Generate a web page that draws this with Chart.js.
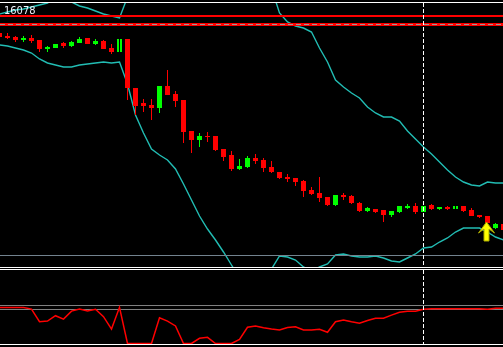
<!DOCTYPE html>
<html>
<head>
<meta charset="utf-8">
<script src="https://cdn.jsdelivr.net/npm/chart.js@4.4.0/dist/chart.umd.min.js"></script>
<style>
html, body { margin: 0; padding: 0; background: #000; }
#wrap { position: relative; width: 503px; height: 347px; background: #000; overflow: hidden; }
#mainChart { position: absolute; left: 0; top: 0; }
#subChart { position: absolute; left: 0; top: 268px; }
</style>
</head>
<body>
<div id="wrap">
  <canvas id="mainChart" width="503" height="268"></canvas>
  <canvas id="subChart" width="503" height="79"></canvas>
</div>
<script>
// price data, one entry per bar (bar -1 is the partly hidden one at the left edge)
var opens = [
  16061, 16058, 16057, 16054, 16056, 16054, 16045, 16046,
  16051, 16048, 16051, 16056, 16050, 16053, 16046, 16042,
  16055, 16006, 15991, 15989, 15986, 16008, 16000, 15994,
  15963, 15954, 15958, 15958, 15945, 15939, 15925, 15927,
  15936, 15934, 15927, 15922, 15917, 15916, 15913, 15904,
  15901, 15897, 15889, 15899, 15898, 15891, 15883, 15885,
  15884, 15879, 15882, 15886, 15888, 15882, 15889, 15885,
  15887, 15885, 15888, 15884, 15879, 15878, 15866, 15870
];
var closes = [
  16057, 16056, 16054, 16056, 16053, 16045, 16047, 16050,
  16048, 16052, 16055, 16050, 16053, 16045, 16042, 16055,
  16006, 15988, 15988, 15986, 16008, 15999, 15993, 15962,
  15954, 15958, 15957, 15944, 15937, 15925, 15928, 15936,
  15933, 15926, 15922, 15916, 15915, 15912, 15903, 15900,
  15896, 15889, 15899, 15897, 15891, 15883, 15886, 15882,
  15879, 15883, 15888, 15888, 15882, 15888, 15885, 15887,
  15885, 15888, 15883, 15878, 15877, 15871, 15870, 15864
];
var highs = [
  16062, 16061, 16058, 16058, 16059, 16054, 16048, 16050,
  16052, 16053, 16057, 16056, 16055, 16054, 16050, 16055,
  16055, 16006, 15995, 15995, 16008, 16024, 16003, 15994,
  15963, 15961, 15962, 15958, 15945, 15943, 15935, 15938,
  15940, 15936, 15933, 15922, 15920, 15916, 15914, 15907,
  15917, 15897, 15899, 15901, 15899, 15892, 15887, 15885,
  15884, 15883, 15888, 15890, 15891, 15888, 15890, 15887,
  15888, 15888, 15888, 15886, 15879, 15878, 15871, 15871
];
var lows = [
  16056, 16055, 16052, 16052, 16051, 16042, 16042, 16046,
  16046, 16047, 16051, 16050, 16049, 16045, 16040, 16042,
  15994, 15979, 15982, 15974, 15981, 15999, 15987, 15951,
  15941, 15947, 15952, 15943, 15933, 15923, 15924, 15926,
  15930, 15922, 15921, 15915, 15912, 15908, 15897, 15899,
  15892, 15888, 15888, 15894, 15890, 15882, 15882, 15881,
  15872, 15877, 15881, 15885, 15880, 15882, 15884, 15884,
  15884, 15885, 15882, 15878, 15876, 15870, 15865, 15862
];
var upperBand = [
  16080, 16082, 16084, 16085, 16087, 16089, 16091, 16096,
  16096, 16092, 16088, 16086, 16083, 16080, 16078, 16076,
  16097, 16119, 16139, 16154, 16164, 16172, 16179, 16182,
  16184, 16184, 16182, 16178, 16172, 16164, 16154, 16142,
  16129, 16119, 16106, 16081, 16072, 16068, 16066, 16062,
  16046, 16032, 16014, 16007, 16001, 15996, 15987, 15981,
  15977, 15977, 15973, 15963, 15955, 15947, 15940, 15932,
  15924, 15917, 15912, 15909, 15908, 15912, 15911, 15911
];
var lowerBand = [
  16049, 16048, 16046, 16044, 16041, 16035, 16031, 16029,
  16027, 16027, 16029, 16030, 16031, 16032, 16031, 16032,
  16010, 15979, 15961, 15945, 15939, 15934, 15925, 15910,
  15894, 15878, 15865, 15854, 15842, 15829, 15816, 15809,
  15809, 15816, 15825, 15838, 15837, 15834, 15827, 15823,
  15827, 15830, 15839, 15840, 15838, 15837, 15837, 15838,
  15836, 15833, 15832, 15836, 15840, 15846, 15847, 15852,
  15856, 15862, 15866, 15866, 15866, 15862, 15857, 15854
];
var oscillator = [
  95, 95, 95, 95, 91, 59.5, 61, 74.5,
  66, 86, 91, 86, 90.5, 72, 41, 95.5,
  5, 5, 5, 5, 69.5, 61, 49, 5,
  5, 18, 20.5, 5, 5, 5, 15.5, 45.5,
  49, 44.5, 41.5, 39, 45, 47, 39, 39,
  40.5, 33, 59.5, 64, 59.5, 55.5, 62.5, 68,
  68, 76, 83, 85.5, 85.5, 90.5, 92, 92,
  92, 92, 92, 92, 92, 90.5, 93, 93
];
var oscLevels = [100, 90];
var priceLabel = '16078';
var redLevel = 16078;
var redDashLevel = 16069.5;
var greyLevel = 15838.5;
var markerBar = 52;     // vertical dashed line
var arrowBar = 60;
var arrowPrice = 15872;
var hollowBars = [14, 56];

var firstBar = -1;
var xMin = -0.9375, xMax = 61.9375;
var upColor = '#00ff00', downColor = '#ff0000', bandColor = '#22bdb4';

var bodyData = [], wickData = [], bodyColors = [], wickColors = [];
var upperData = [], lowerData = [], oscData = [];
for (var i = 0; i < opens.length; i++) {
    var bar = firstBar + i;
    var col = closes[i] >= opens[i] ? upColor : downColor;
    bodyData.push({x: bar, y: [opens[i], closes[i]]});
    wickData.push({x: bar, y: [lows[i], highs[i]]});
    bodyColors.push(col);
    wickColors.push(hollowBars.indexOf(bar) >= 0 ? '#000000' : col);
    upperData.push({x: bar, y: upperBand[i]});
    lowerData.push({x: bar, y: lowerBand[i]});
    oscData.push({x: bar, y: oscillator[i]});
}

function hline(ctx, y, x0, x1, color, width, dash) {
    ctx.beginPath();
    ctx.setLineDash(dash || []);
    ctx.strokeStyle = color;
    ctx.lineWidth = width;
    ctx.moveTo(x0, y);
    ctx.lineTo(x1, y);
    ctx.stroke();
}

function vline(ctx, x, y0, y1) {
    ctx.beginPath();
    ctx.setLineDash([4, 2]);
    ctx.strokeStyle = '#ffffff';
    ctx.lineWidth = 1;
    ctx.moveTo(x, y0);
    ctx.lineTo(x, y1);
    ctx.stroke();
}

var mainOverlay = {
    id: 'mainOverlay',
    afterDatasetsDraw: function (chart) {
        var ctx = chart.ctx, xs = chart.scales.x, ys = chart.scales.y;
        var w = chart.width;
        ctx.save();
        hline(ctx, ys.getPixelForValue(greyLevel), 0, w, '#73838f', 1);
        hline(ctx, ys.getPixelForValue(redLevel), 0, w, '#ff0000', 2);
        hline(ctx, ys.getPixelForValue(redDashLevel), 0, w, '#ff0000', 3);
        hline(ctx, ys.getPixelForValue(redDashLevel), 0, w, '#9a9a9a', 1, [5, 3]);
        hline(ctx, 2.5, 0, w, '#ffffff', 1);
        hline(ctx, 267.5, 0, w, '#ffffff', 1);
        vline(ctx, xs.getPixelForValue(markerBar), 3, 267);

        // up arrow
        var ax = xs.getPixelForValue(arrowBar) - 1;
        var ay = ys.getPixelForValue(arrowPrice);
        ctx.setLineDash([]);
        ctx.beginPath();
        ctx.moveTo(ax, ay);
        ctx.lineTo(ax + 8, ay + 11);
        ctx.lineTo(ax + 2.5, ay + 7);
        ctx.lineTo(ax + 2.5, ay + 19);
        ctx.lineTo(ax - 2.5, ay + 19);
        ctx.lineTo(ax - 2.5, ay + 7);
        ctx.lineTo(ax - 8, ay + 11);
        ctx.closePath();
        ctx.fillStyle = '#ffff00';
        ctx.fill();
        ctx.strokeStyle = '#a8a800';
        ctx.lineWidth = 1;
        ctx.stroke();

        ctx.font = "11px 'Liberation Sans Narrow', 'DejaVu Sans Condensed', 'Liberation Sans'";
        ctx.fillStyle = '#eef2fa';
        ctx.textBaseline = 'alphabetic';
        ctx.fillText(priceLabel, 4, 14);
        ctx.restore();
    }
};

var subOverlay = {
    id: 'subOverlay',
    beforeDatasetsDraw: function (chart) {
        var ctx = chart.ctx, ys = chart.scales.y;
        ctx.save();
        oscLevels.forEach(function (lv) {
            hline(ctx, ys.getPixelForValue(lv), 0, chart.width, '#808080', 1);
        });
        ctx.restore();
    },
    afterDatasetsDraw: function (chart) {
        var ctx = chart.ctx, xs = chart.scales.x;
        ctx.save();
        hline(ctx, 1.5, 0, chart.width, '#ffffff', 1);
        hline(ctx, 76.5, 0, chart.width, '#ffffff', 1);
        vline(ctx, xs.getPixelForValue(markerBar), 2, 76);
        ctx.restore();
    }
};

var xScale = { type: 'linear', display: false, min: xMin, max: xMax, offset: false, bounds: 'data' };

new Chart(document.getElementById('mainChart'), {
    type: 'bar',
    data: {
        datasets: [
            { type: 'bar', data: wickData, backgroundColor: wickColors, barThickness: 1,
              grouped: false, minBarLength: 1, borderWidth: 0, inflateAmount: 0 },
            { type: 'bar', data: bodyData, backgroundColor: bodyColors, barThickness: 5,
              grouped: false, minBarLength: 1, borderWidth: 0, inflateAmount: 0 },
            { type: 'line', data: upperData, borderColor: bandColor, borderWidth: 1.4,
              pointRadius: 0, tension: 0, clip: 0 },
            { type: 'line', data: lowerData, borderColor: bandColor, borderWidth: 1.4,
              pointRadius: 0, tension: 0, clip: 0 }
        ]
    },
    options: {
        responsive: false,
        animation: false,
        events: [],
        layout: { padding: { top: 3, bottom: 1, left: 0, right: 0 } },
        plugins: { legend: { display: false }, tooltip: { enabled: false } },
        scales: {
            x: xScale,
            y: { type: 'linear', display: false, min: 15827, max: 16091, bounds: 'data' }
        }
    },
    plugins: [mainOverlay]
});

new Chart(document.getElementById('subChart'), {
    type: 'line',
    data: {
        datasets: [
            { data: oscData, borderColor: '#ff0000', borderWidth: 1.5, pointRadius: 0,
              tension: 0, clip: 0 }
        ]
    },
    options: {
        responsive: false,
        animation: false,
        events: [],
        layout: { padding: 0 },
        plugins: { legend: { display: false }, tooltip: { enabled: false } },
        scales: {
            x: xScale,
            y: { type: 'linear', display: false, min: -3.75, max: 193.75, bounds: 'data' }
        }
    },
    plugins: [subOverlay]
});
</script>
</body>
</html>
